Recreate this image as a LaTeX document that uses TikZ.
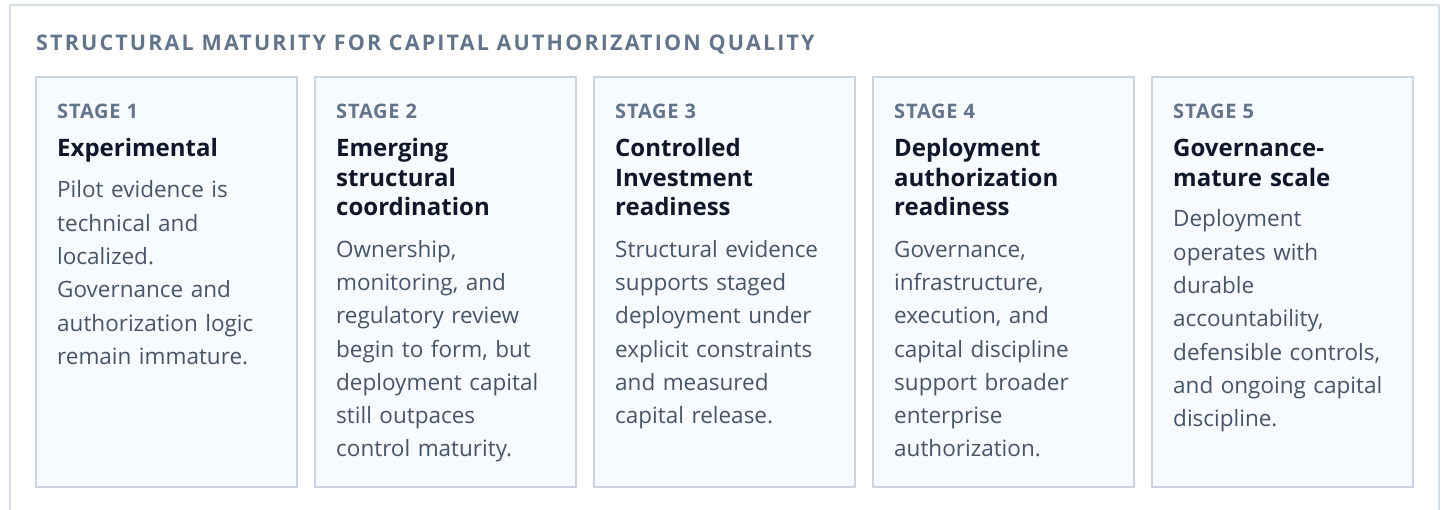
\documentclass[tikz,border=0pt]{standalone}
\usepackage{fontspec}
\setmainfont{Open Sans}
\newfontfamily\trackedfont{Open Sans}[LetterSpace=10]
\newfontfamily\tagfont{Open Sans}[LetterSpace=4]

\definecolor{frameline}{HTML}{D6DEE8}
\definecolor{boxline}{HTML}{CBD5E1}
\definecolor{boxfill}{HTML}{F7FAFE}
\definecolor{muted}{HTML}{64748B}
\definecolor{ink}{HTML}{0F172A}
\definecolor{bodytext}{HTML}{475569}

\begin{document}
\begin{tikzpicture}[x=1pt,y=-1pt,
  stagebox/.style={draw=boxline, line width=2pt, fill=boxfill, outer sep=0pt,
    inner sep=0pt, minimum width=261pt, minimum height=409pt, anchor=north west},
  titletext/.style={anchor=base west, inner sep=0pt, text=muted,
    font=\trackedfont\bfseries\fontsize{21.5}{26}\selectfont},
  tagtext/.style={anchor=base west, inner sep=0pt, text=muted,
    font=\tagfont\bfseries\fontsize{20}{25}\selectfont},
  headtext/.style={anchor=base west, inner sep=0pt, text=ink, align=left,
    text width=235pt, font=\bfseries\fontsize{24}{29.6}\selectfont},
  desctext/.style={anchor=base west, inner sep=0pt, text=bodytext, align=left,
    text width=235pt, font=\fontsize{22.5}{33.3}\selectfont}]

% canvas and clipping
\useasboundingbox (0,0) rectangle (1442,510);
\clip (0,0) rectangle (1442,510);
\fill[white] (0,0) rectangle (1442,510);

% outer panel, open at the bottom edge
\coordinate (pbl) at (10,530);
\coordinate (ptl) at (10,5);
\coordinate (ptr) at (1439,5);
\coordinate (pbr) at (1439,530);
\draw[frameline, line width=2pt] (pbl) -- (ptl) -- (ptr) -- (pbr);

\node[titletext] (title) at (36,50.5) {STRUCTURAL MATURITY FOR CAPITAL AUTHORIZATION QUALITY};

% stage cards
\node[stagebox] (box1) at (36,77.5) {};
\node[stagebox] (box2) at (315,77.5) {};
\node[stagebox] (box3) at (594,77.5) {};
\node[stagebox] (box4) at (873,77.5) {};
\node[stagebox] (box5) at (1152,77.5) {};

% stage 1
\node[tagtext] (tag1) at (57,118.5) {STAGE 1};
\node[headtext] (head1) at (57,156.7) {Experimental};
\node[desctext] (desc1) at (57,198) {Pilot evidence is\\technical and\\localized.\\Governance and\\authorization logic\\remain immature.};

% stage 2
\node[tagtext] (tag2) at (336,118.5) {STAGE 2};
\node[headtext] (head2) at (336,156.7) {Emerging\\structural\\coordination};
\node[desctext] (desc2) at (336,257.2) {Ownership,\\monitoring, and\\regulatory review\\begin to form, but\\deployment capital\\still outpaces\\control maturity.};

% stage 3
\node[tagtext] (tag3) at (615,118.5) {STAGE 3};
\node[headtext] (head3) at (615,156.7) {Controlled\\Investment\\readiness};
\node[desctext] (desc3) at (615,257.2) {Structural evidence\\supports staged\\deployment under\\explicit constraints\\and measured\\capital release.};

% stage 4
\node[tagtext] (tag4) at (894,118.5) {STAGE 4};
\node[headtext] (head4) at (894,156.7) {Deployment\\authorization\\readiness};
\node[desctext] (desc4) at (894,257.2) {Governance,\\infrastructure,\\execution, and\\capital discipline\\support broader\\enterprise\\authorization.};

% stage 5
\node[tagtext] (tag5) at (1173,118.5) {STAGE 5};
\node[headtext] (head5) at (1173,156.7) {Governance-\\mature scale};
\node[desctext] (desc5) at (1173,227) {Deployment\\operates with\\durable\\accountability,\\defensible controls,\\and ongoing capital\\discipline.};
\end{tikzpicture}
\end{document}
